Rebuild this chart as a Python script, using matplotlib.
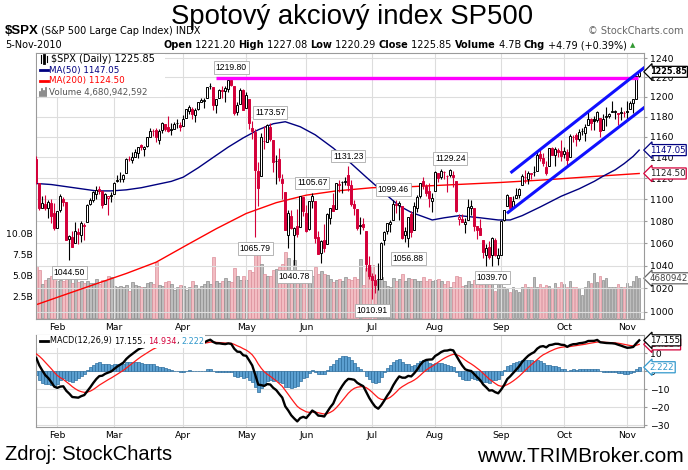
import numpy as np
import pandas as pd
import matplotlib
matplotlib.use('Agg')
import matplotlib.pyplot as plt
from matplotlib.lines import Line2D
from matplotlib.patches import Rectangle

plt.rcParams['font.family'] = 'DejaVu Sans'

# ---------------- data ($SPX daily, 21-Jan-2010 .. 5-Nov-2010) ----------------
holidays = ['2010-02-15', '2010-04-02', '2010-05-31', '2010-07-05', '2010-09-06']
prev_close0 = 1138.04  # close 20-Jan-2010

open_p = [1138.68, 1115.49, 1092.40, 1095.80, 1091.94, 1096.93, 1087.61,
          1073.89, 1090.05, 1100.67, 1097.25, 1064.12, 1065.51, 1060.06, 1069.68, 1067.10, 1075.95, 1079.13, 1096.14, 1099.03, 1105.49, 1110.00, 1107.49, 1095.89, 1101.24, 1103.10,
          1105.36, 1117.01, 1119.36, 1119.12, 1125.12, 1138.40, 1137.56, 1140.22, 1143.96, 1151.71, 1148.53, 1150.83, 1159.94, 1166.13, 1166.68, 1157.25, 1166.47, 1172.70, 1170.03, 1167.58, 1167.71, 1173.75, 1171.75,
          1171.23, 1178.71, 1186.01, 1188.23, 1181.75, 1187.47, 1194.94, 1195.94, 1198.69, 1210.77, 1210.17, 1192.06, 1199.04, 1207.16, 1205.94, 1207.87, 1217.07, 1211.52, 1184.59, 1193.30, 1206.77,
          1188.58, 1197.50, 1169.24, 1164.38, 1127.04, 1122.27, 1156.39, 1155.43, 1170.04, 1157.19, 1136.52, 1138.78, 1119.57, 1107.34, 1067.26, 1084.78, 1067.42, 1075.51, 1074.27, 1102.59,
          1087.30, 1073.01, 1098.82, 1098.43, 1065.84, 1050.81, 1062.75, 1058.77, 1082.65, 1095.00, 1091.21, 1114.02, 1115.98, 1116.16, 1122.79, 1113.90, 1095.57, 1090.93, 1075.10, 1077.50, 1071.10, 1040.56,
          1031.10, 1027.65, 1028.09, 1028.54, 1062.92, 1070.50, 1077.23, 1080.65, 1095.61, 1094.46, 1093.85, 1066.85, 1064.53, 1086.67, 1072.14, 1092.17, 1102.89, 1117.36, 1112.84, 1108.07, 1098.44,
          1107.53, 1125.34, 1121.06, 1125.78, 1122.07, 1122.80, 1122.92, 1116.89, 1081.48, 1082.22, 1077.49, 1081.16, 1092.08, 1092.44, 1075.63, 1073.36, 1063.20, 1048.98, 1056.28, 1049.27, 1062.90, 1046.88,
          1049.72, 1080.66, 1093.61, 1102.60, 1092.36, 1101.15, 1104.57, 1113.38, 1121.16, 1119.43, 1123.89, 1126.39, 1126.57, 1142.82, 1139.49, 1131.10, 1131.69, 1148.64, 1142.31, 1146.75, 1145.97,
          1143.49, 1144.96, 1140.68, 1159.81, 1161.57, 1158.36, 1165.32, 1164.28, 1171.32, 1177.82, 1177.47, 1176.83, 1178.64, 1166.74, 1179.82, 1180.52, 1184.74, 1184.88, 1183.84, 1184.47, 1183.87,
          1185.71, 1187.86, 1193.79, 1198.34, 1221.20]

high_p = [1141.58, 1115.49, 1102.97, 1103.69, 1099.51, 1100.22, 1096.45,
          1089.38, 1104.73, 1102.72, 1097.25, 1067.13, 1071.20, 1079.28, 1073.67, 1080.04, 1077.81, 1095.67, 1101.03, 1108.24, 1112.42, 1112.29, 1108.58, 1106.42, 1103.50, 1107.24,
          1116.11, 1123.46, 1125.64, 1123.73, 1139.38, 1141.05, 1145.37, 1148.26, 1150.24, 1153.41, 1150.98, 1160.28, 1169.20, 1167.77, 1169.20, 1167.82, 1174.72, 1173.04, 1180.69, 1173.93, 1174.85, 1177.83, 1174.56,
          1181.43, 1187.73, 1191.80, 1189.60, 1188.55, 1194.66, 1199.20, 1199.04, 1210.65, 1213.92, 1210.17, 1197.87, 1208.58, 1210.99, 1210.99, 1217.28, 1219.80, 1211.52, 1195.05, 1209.36, 1207.99,
          1205.13, 1197.50, 1175.95, 1167.58, 1135.13, 1163.85, 1170.48, 1172.87, 1173.57, 1157.19, 1141.88, 1148.66, 1124.27, 1107.34, 1090.16, 1089.95, 1074.75, 1090.75, 1103.52, 1102.59,
          1094.77, 1098.56, 1105.67, 1098.43, 1071.36, 1063.15, 1077.74, 1087.85, 1092.25, 1105.91, 1115.59, 1118.74, 1117.72, 1121.01, 1131.23, 1118.50, 1099.64, 1090.93, 1083.56, 1082.60, 1071.10, 1048.08,
          1033.58, 1032.95, 1042.50, 1060.89, 1071.25, 1078.16, 1080.78, 1099.46, 1099.08, 1098.66, 1093.85, 1074.70, 1083.94, 1088.96, 1097.50, 1103.73, 1115.01, 1120.95, 1114.66, 1115.90, 1106.44,
          1127.30, 1125.44, 1128.75, 1126.56, 1123.06, 1129.24, 1127.16, 1116.89, 1086.72, 1086.25, 1082.62, 1100.14, 1099.77, 1092.44, 1075.63, 1081.58, 1063.20, 1059.38, 1061.45, 1065.21, 1064.40, 1055.14,
          1081.30, 1090.10, 1105.10, 1102.60, 1103.26, 1110.27, 1110.88, 1123.87, 1127.36, 1126.46, 1125.44, 1131.47, 1144.86, 1148.59, 1144.38, 1136.77, 1148.90, 1149.92, 1150.00, 1148.63, 1157.16,
          1150.30, 1148.16, 1162.76, 1162.33, 1163.87, 1167.73, 1168.68, 1172.58, 1184.38, 1178.89, 1181.20, 1185.53, 1178.64, 1182.94, 1189.43, 1183.93, 1196.14, 1187.11, 1183.84, 1189.53, 1185.46,
          1195.81, 1195.88, 1198.30, 1221.25, 1227.08]

low_p = [1114.84, 1090.18, 1092.40, 1089.86, 1083.11, 1078.46, 1071.59,
         1073.89, 1087.96, 1093.97, 1062.78, 1044.50, 1056.51, 1060.06, 1059.34, 1060.59, 1062.97, 1079.13, 1094.72, 1097.48, 1100.80, 1105.38, 1092.18, 1095.50, 1086.02, 1097.56,
         1105.36, 1116.51, 1116.58, 1116.66, 1125.12, 1136.77, 1134.90, 1140.09, 1138.99, 1146.97, 1141.45, 1150.35, 1159.94, 1161.16, 1155.33, 1152.88, 1163.83, 1166.01, 1165.09, 1161.48, 1167.71, 1168.92, 1165.77,
         1170.69, 1178.71, 1182.77, 1177.25, 1175.12, 1187.15, 1194.71, 1188.82, 1198.69, 1208.50, 1186.77, 1183.68, 1199.04, 1198.85, 1194.58, 1205.10, 1211.07, 1181.62, 1181.81, 1193.30, 1186.32,
         1188.58, 1168.12, 1158.15, 1065.79, 1094.15, 1122.27, 1147.71, 1155.43, 1156.14, 1126.14, 1114.96, 1117.20, 1100.66, 1071.58, 1055.90, 1072.70, 1040.78, 1065.59, 1074.27, 1084.78,
         1069.89, 1072.03, 1091.81, 1060.50, 1049.86, 1042.17, 1052.25, 1058.77, 1077.12, 1089.03, 1091.21, 1107.13, 1105.87, 1113.93, 1108.24, 1094.18, 1085.31, 1071.60, 1067.89, 1071.45, 1035.18, 1028.33,
         1010.91, 1015.93, 1018.35, 1028.54, 1058.24, 1068.10, 1070.45, 1080.65, 1087.68, 1080.53, 1063.32, 1061.11, 1056.88, 1065.25, 1072.14, 1087.88, 1101.30, 1109.78, 1103.11, 1092.82, 1088.01,
         1107.53, 1116.76, 1119.46, 1118.81, 1107.17, 1120.91, 1111.58, 1088.55, 1076.69, 1079.00, 1069.49, 1081.16, 1085.76, 1070.66, 1063.91, 1067.08, 1046.68, 1039.83, 1045.40, 1039.70, 1048.79, 1040.88,
         1049.72, 1080.39, 1093.61, 1091.15, 1092.36, 1101.15, 1101.15, 1113.38, 1115.58, 1114.63, 1118.88, 1122.43, 1126.57, 1136.22, 1131.58, 1122.79, 1131.69, 1142.00, 1132.09, 1140.26, 1136.08,
         1139.42, 1131.87, 1140.68, 1154.85, 1151.41, 1155.58, 1162.02, 1155.71, 1171.32, 1166.71, 1167.12, 1174.55, 1159.71, 1166.74, 1171.17, 1178.99, 1184.74, 1177.72, 1171.70, 1177.10, 1179.70,
         1177.65, 1187.86, 1183.56, 1198.34, 1220.29]

close_p = [1116.48, 1091.76, 1096.78, 1092.17, 1097.50, 1084.53, 1073.87,
           1089.19, 1103.32, 1097.28, 1063.11, 1066.19, 1056.74, 1070.52, 1068.13, 1078.47, 1075.51, 1094.87, 1099.51, 1106.75, 1109.17, 1108.01, 1094.60, 1105.24, 1102.93, 1104.49,
           1115.71, 1118.31, 1118.79, 1122.97, 1138.70, 1138.50, 1140.45, 1145.61, 1150.24, 1149.99, 1150.51, 1159.46, 1166.21, 1165.83, 1159.90, 1165.81, 1174.17, 1167.72, 1165.73, 1166.59, 1173.22, 1173.27, 1169.43,
           1178.10, 1187.44, 1189.44, 1182.45, 1186.44, 1194.37, 1196.48, 1197.30, 1210.65, 1211.67, 1192.13, 1197.52, 1207.17, 1205.94, 1208.67, 1217.28, 1212.05, 1183.71, 1191.36, 1206.78, 1186.69,
           1202.26, 1173.60, 1165.87, 1128.15, 1110.88, 1159.73, 1155.79, 1171.67, 1157.44, 1135.68, 1136.94, 1120.80, 1115.05, 1071.59, 1087.69, 1073.65, 1074.03, 1067.95, 1103.06, 1089.41,
           1070.71, 1098.38, 1102.83, 1064.88, 1050.47, 1062.00, 1055.69, 1086.84, 1091.60, 1089.63, 1115.23, 1114.61, 1116.04, 1117.51, 1113.20, 1095.31, 1092.04, 1073.69, 1076.76, 1074.57, 1041.24, 1030.71,
           1027.37, 1022.58, 1028.06, 1060.27, 1070.25, 1077.96, 1078.75, 1095.34, 1095.17, 1096.48, 1064.88, 1071.25, 1083.48, 1069.59, 1093.67, 1102.66, 1115.01, 1113.84, 1106.13, 1101.53, 1101.60,
           1125.86, 1120.46, 1127.24, 1125.81, 1121.64, 1127.79, 1121.06, 1089.47, 1083.61, 1079.25, 1079.38, 1092.54, 1094.16, 1075.63, 1071.69, 1067.36, 1051.87, 1055.33, 1047.22, 1064.59, 1048.92, 1049.33,
           1080.29, 1090.10, 1104.51, 1091.84, 1098.87, 1104.18, 1109.55, 1121.90, 1121.10, 1125.07, 1124.66, 1125.59, 1142.71, 1139.78, 1134.28, 1124.83, 1148.67, 1142.16, 1147.70, 1144.73, 1141.20,
           1146.24, 1137.03, 1160.75, 1159.97, 1158.06, 1165.15, 1165.32, 1169.77, 1178.10, 1173.81, 1176.19, 1184.71, 1165.90, 1178.17, 1180.26, 1183.08, 1185.62, 1185.64, 1182.45, 1183.78, 1183.26,
           1184.38, 1193.57, 1197.96, 1221.06, 1225.85]

# volume, billions of shares
volume_b = [6.1, 5.6, 4.0, 4.5, 4.7, 5.0, 5.2,
            4.4, 4.5, 4.3, 5.6, 6.1, 4.1, 4.6, 4.2, 4.4, 4.1, 4.3, 4.1, 4.1, 4.6, 4.0, 4.5, 4.3, 4.9, 4.8,
            3.8, 3.7, 3.8, 3.6, 3.9, 3.2, 4.2, 3.9, 3.8, 3.6, 3.6, 4.1, 4.2, 4.0, 6.6, 3.9, 3.8, 4.2, 4.4, 4.0, 3.3, 3.6, 3.9,
            3.8, 3.3, 3.7, 4.3, 3.9, 3.4, 3.8, 4.0, 4.3, 4.0, 7.2, 4.3, 4.1, 4.3, 4.7, 4.4, 4.2, 5.9, 5.0, 4.5, 4.9,
            4.5, 5.7, 5.4, 8.2, 8.8, 6.4, 5.2, 5.0, 5.0, 5.6, 5.8, 6.0, 6.4, 7.8, 7.1, 5.3, 6.8, 5.6, 5.6, 4.3,
            5.5, 5.3, 4.9, 6.0, 5.2, 5.5, 5.2, 5.1, 4.6, 4.2, 4.5, 4.6, 4.4, 4.8, 4.6, 4.5, 4.8, 4.6, 7.0, 3.9, 5.9, 5.6,
            6.2, 4.3, 4.6, 4.8, 4.3, 3.8, 3.6, 4.7, 4.3, 4.6, 5.2, 4.4, 4.7, 4.6, 4.6, 4.3, 4.3, 4.8, 4.4, 4.6, 4.3,
            4.5, 4.6, 4.3, 4.0, 4.4, 3.7, 4.2, 5.0, 4.8, 3.8, 3.9, 4.3, 4.0, 4.5, 4.6, 3.9, 4.3, 4.5, 4.2, 4.2, 3.2, 4.0,
            4.3, 3.7, 3.4, 3.0, 3.6, 3.3, 3.0, 3.7, 4.0, 3.7, 3.7, 4.8, 3.7, 4.0, 3.7, 3.9, 3.8, 3.5, 4.1, 3.7, 4.2,
            4.0, 3.6, 4.3, 3.7, 3.7, 3.5, 2.7, 3.7, 4.4, 4.1, 5.3, 4.2, 4.9, 4.5, 4.7, 3.6, 3.7, 3.7, 4.0, 3.7, 3.6,
            4.1, 3.8, 4.3, 5.0, 4.68]

# moving averages (trading-day index -> value)
ma50_idx = [0, 5, 10, 15, 20, 25, 30, 35, 40, 45, 49, 54, 59, 64, 69, 74, 79, 83, 88, 93, 99, 105, 110, 116, 121,
            125, 128, 132, 136, 141, 148, 154, 158, 162, 168, 175, 181, 186, 189, 193, 196, 199, 201]
ma50_val = [1115, 1114, 1112, 1110, 1108, 1108, 1109, 1111, 1114, 1117, 1121, 1130, 1140, 1150, 1159, 1167, 1173, 1175,
            1170, 1162, 1149, 1134, 1121, 1106, 1094, 1088, 1085, 1081, 1083, 1085, 1083, 1081, 1081, 1085, 1093, 1103,
            1110, 1117, 1122, 1128, 1134, 1141, 1147.05]
ma200_idx = [0, 10, 20, 30, 40, 50, 60, 70, 80, 90, 100, 112, 125, 140, 155, 170, 185, 201]
ma200_val = [1006, 1015, 1024, 1033, 1043, 1058, 1073, 1087, 1097, 1104, 1108, 1111, 1112, 1114, 1116, 1118.5, 1121.5, 1124.5]

# MACD(12,26,9) starting state on 20-Jan-2010
ema12_seed, ema26_seed, signal_seed = 1140.0, 1130.0, 10.2

# annotated highs / lows
label_dates = ['2010-02-05', '2010-04-26', '2010-05-06', '2010-05-13', '2010-05-25', '2010-06-03',
               '2010-06-21', '2010-07-01', '2010-07-13', '2010-07-20', '2010-08-09', '2010-08-27']
label_kind = ['low', 'high', 'low', 'high', 'low', 'high', 'high', 'low', 'high', 'low', 'high', 'low']

# drawn lines: resistance and trend channel
resist_level, resist_from, resist_to = 1219.80, 60.0, 200.5
chan_up_x, chan_up_y = [158.5, 203.0], [1126.0, 1231.0]
chan_lo_x, chan_lo_y = [157.3, 203.0], [1088.0, 1190.0]

# ---------------- figure ----------------
W, H = 688, 470
fig = plt.figure(figsize=(W / 100, H / 100), dpi=100)


def fx(px):
    return px / W


def fy(py):
    return 1 - py / H


days = pd.bdate_range('2010-01-21', '2010-11-05')
days = days[~days.isin(pd.to_datetime(holidays))]
n = len(days)
x = np.arange(n)
o, hi, lo, c = map(np.array, (open_p, high_p, low_p, close_p))
vol = np.array(volume_b)
prev = np.concatenate([[prev_close0], c[:-1]])
up = c >= prev

month_pos = [i for i in range(1, n) if days[i].month != days[i - 1].month]
month_lab = [days[i].strftime('%b') for i in month_pos]

RED = '#d4003a'
GRID = '#dddddd'
FRAME = '#9a9a9a'
SMALL = 6.3

# price panel (volume behind on its own axes)
rect = [fx(36), fy(319.3), fx(608), (319.3 - 52.7) / H]
axv = fig.add_axes(rect)
ax = fig.add_axes(rect, sharex=axv)
ax.set_facecolor('none')
axv.set_zorder(1)
ax.set_zorder(2)

axv.bar(x, vol, width=0.85, color=np.where(up, '#bdbdbd', '#f2bcc2'),
        edgecolor=np.where(up, '#8c8c8c', '#dc8f9b'), linewidth=0.5)
axv.set_ylim(-0.174, 31.37)
axv.set_yticks([2.5, 5.0, 7.5, 10.0])
axv.set_yticklabels(['2.5B', '5.0B', '7.5B', '10.0B'])
axv.tick_params(axis='y', length=0, labelsize=SMALL + 0.4, pad=2)
axv.tick_params(axis='x', bottom=False, labelbottom=False)
for s in axv.spines.values():
    s.set_visible(False)

ax.set_yscale('log')
ax.set_ylim(993.6, 1245.9)
ax.set_xlim(-0.1, 202.6)
ticks = list(range(1000, 1241, 20))
ax.set_yticks(ticks)
ax.set_yticklabels([str(t) for t in ticks])
ax.yaxis.set_minor_locator(matplotlib.ticker.NullLocator())
ax.yaxis.tick_right()
ax.tick_params(axis='y', length=2, color=FRAME, labelsize=SMALL + 0.4, pad=2)
ax.set_xticks(month_pos)
ax.set_xticklabels(month_lab)
ax.tick_params(axis='x', length=0, labelsize=SMALL + 0.4, pad=2.5)
ax.grid(True, color=GRID, lw=0.8)
ax.set_axisbelow(True)
for s in ax.spines.values():
    s.set_color(FRAME)

ax.plot(ma200_idx, ma200_val, color='#ff0000', lw=1.0, zorder=2)
ax.plot(ma50_idx, ma50_val, color='#000080', lw=1.0, zorder=2)

# candles
col = np.where(up, 'black', RED)
fill = np.where(c > o, 'white', col)
ax.vlines(x, lo, hi, colors=col, lw=0.8, zorder=3)
ax.bar(x, np.abs(c - o), bottom=np.minimum(o, c), width=0.62, color=fill,
       edgecolor=col, linewidth=0.7, zorder=4)

ax.hlines(resist_level, resist_from, resist_to, color='#ff00ff', lw=2.4, zorder=5)
ax.plot(chan_up_x, chan_up_y, color='#1010ff', lw=2.2, zorder=5)
ax.plot(chan_lo_x, chan_lo_y, color='#1010ff', lw=2.2, zorder=5)

for d, k in zip(label_dates, label_kind):
    i = days.get_loc(pd.Timestamp(d))
    v = hi[i] if k == 'high' else lo[i]
    ax.annotate(f'{v:.2f}', xy=(i, v), xytext=(0, 7.5 if k == 'high' else -8.5),
                textcoords='offset points', ha='center', va='center', fontsize=6.2,
                family='Liberation Sans', zorder=6,
                bbox=dict(boxstyle='square,pad=0.22', fc='white', ec='#aaaaaa', lw=0.6))


def tag(axis, yv, txt, ec, tc, bold=False, size=6.2):
    axis.annotate(txt, xy=(1.0, yv), xycoords=('axes fraction', 'data'), xytext=(4.0, 0),
                  textcoords='offset points', ha='left', va='center', fontsize=size,
                  color=tc, fontweight='bold' if bold else 'normal', annotation_clip=False,
                  zorder=10, bbox=dict(boxstyle='larrow,pad=0.12', fc='white', ec=ec, lw=0.9))


tag(ax, ma200_val[-1], '1124.50', RED, '#222222')
tag(ax, ma50_val[-1], '1147.05', '#000080', '#000080')
tag(ax, c[-1], f'{c[-1]:.2f}', 'black', 'black', bold=True, size=5.9)
tag(axv, vol[-1], '4680942592', '#666666', '#444444')

# MACD panel
e12, e26, sg = ema12_seed, ema26_seed, signal_seed
macd, sig = [], []
for v in c:
    e12 += (v - e12) * 2 / 13
    e26 += (v - e26) * 2 / 27
    sg += ((e12 - e26) - sg) * 2 / 10
    macd.append(e12 - e26)
    sig.append(sg)
macd, sig = np.array(macd), np.array(sig)
hist = macd - sig

am = fig.add_axes([fx(36), fy(427.3), fx(608), (427.3 - 334.5) / H], sharex=ax)
am.bar(x, hist, width=1.0, color='#5b9fd0', edgecolor='#2d6e9e', linewidth=0.5, zorder=2)
am.plot(x, sig, color='#ff1a1a', lw=0.9, zorder=3)
am.plot(x, macd, color='black', lw=1.7, zorder=4)
am.set_ylim(-31.1, 20.4)
am.set_yticks([10, 0, -10, -20, -30])
am.yaxis.tick_right()
am.tick_params(axis='y', length=2, color=FRAME, labelsize=SMALL + 0.4, pad=2)
am.tick_params(axis='x', length=0, labelsize=SMALL + 0.4, pad=2.5)
am.grid(True, color=GRID, lw=0.8)
am.set_axisbelow(True)
for s in am.spines.values():
    s.set_color(FRAME)
tag(am, hist[-1], f'{hist[-1]:.3f}', '#3399cc', '#3399cc')
tag(am, sig[-1], f'{sig[-1]:.3f}', RED, RED)
tag(am, macd[-1], f'{macd[-1]:.3f}', 'black', 'black')

# ---------------- texts ----------------
renderer = fig.canvas.get_renderer()


def seq_text(x0, y0, parts, size=SMALL, family='DejaVu Sans'):
    xp = x0
    for s, color, weight in parts:
        t = fig.text(fx(xp), fy(y0), s, color=color, fontweight=weight, fontsize=size,
                     family=family, ha='left', va='center', zorder=4)
        xp += t.get_window_extent(renderer=renderer).width
    return xp


# white legend backgrounds inside the panels
fig.add_artist(Rectangle((fx(37), fy(96.5)), fx(128), (96.5 - 53.5) / H, fc='white', ec='none', zorder=3))
fig.add_artist(Rectangle((fx(37), fy(348)), fx(168), (348 - 335.3) / H, fc='white', ec='none', zorder=3))

fig.text(fx(352), fy(17), 'Spotový akciový index SP500', fontsize=19.8,
         family='Liberation Sans', ha='center', va='center')
seq_text(5, 31, [('$SPX', 'black', 'bold')], size=9.5, family='Liberation Sans')
fig.text(fx(41), fy(31.5), '(S&P 500 Large Cap Index) INDX', fontsize=7, va='center')
fig.text(fx(683), fy(31.5), '© StockCharts.com', fontsize=7, color='#666666', ha='right', va='center')
fig.text(fx(5), fy(45), '5-Nov-2010', fontsize=7, va='center')
xe = seq_text(163, 45, [('Open', 'black', 'bold'), (' 1221.20 ', 'black', 'normal'),
                        ('High', 'black', 'bold'), (' 1227.08 ', 'black', 'normal'),
                        ('Low', 'black', 'bold'), (' 1220.29 ', 'black', 'normal'),
                        ('Close', 'black', 'bold'), (' 1225.85 ', 'black', 'normal'),
                        ('Volume', 'black', 'bold'), (' 4.7B ', 'black', 'normal'),
                        ('Chg', 'black', 'bold'), (' +4.79 (+0.39%)', 'black', 'normal')], size=7)
fig.text(fx(xe + 3), fy(45), '▲', fontsize=5, color='#339933', va='center')

# price legend
for xs, lw_, y1, y2 in [(41, 0.8, 55, 63), (44, 2, 55, 63), (47, 0.8, 56, 62)]:
    fig.add_artist(Line2D([fx(xs), fx(xs)], [fy(y1), fy(y2)], color='black', lw=lw_, zorder=4))
seq_text(51, 59, [('$SPX (Daily) 1225.85', 'black', 'normal')], size=7)
fig.add_artist(Line2D([fx(40), fx(48)], [fy(70), fy(70)], color='#000080', lw=2, zorder=4))
seq_text(49, 70, [('MA(50) 1147.05', '#000080', 'normal')])
fig.add_artist(Line2D([fx(40), fx(48)], [fy(81), fy(81)], color='#ff0000', lw=2, zorder=4))
seq_text(49, 81, [('MA(200) 1124.50', '#ff0000', 'normal')])
for k, hgt in enumerate([4, 7, 5, 8]):
    fig.add_artist(Line2D([fx(40 + 2 * k), fx(40 + 2 * k)], [fy(96), fy(96 - hgt)],
                          color='#777777', lw=1.2, zorder=4))
seq_text(49, 92, [('Volume 4,680,942,592', '#555555', 'normal')])

# MACD legend
fig.add_artist(Line2D([fx(40), fx(48)], [fy(341), fy(341)], color='black', lw=2, zorder=4))
seq_text(50, 341, [('MACD(12,26,9) ', 'black', 'normal'), (f'{macd[-1]:.3f}', 'black', 'normal'),
                   (', ', 'black', 'normal'), (f'{sig[-1]:.3f}', RED, 'normal'),
                   (', ', 'black', 'normal'), (f'{hist[-1]:.3f}', '#3399cc', 'normal')], size=5.9)

fig.text(fx(5), fy(455), 'Zdroj: StockCharts', fontsize=14.5, family='Liberation Sans', va='center')
fig.text(fx(684), fy(457), 'www.TRIMBroker.com', fontsize=15, family='Liberation Sans',
         ha='right', va='center')

fig.savefig('out.png', dpi=100)
